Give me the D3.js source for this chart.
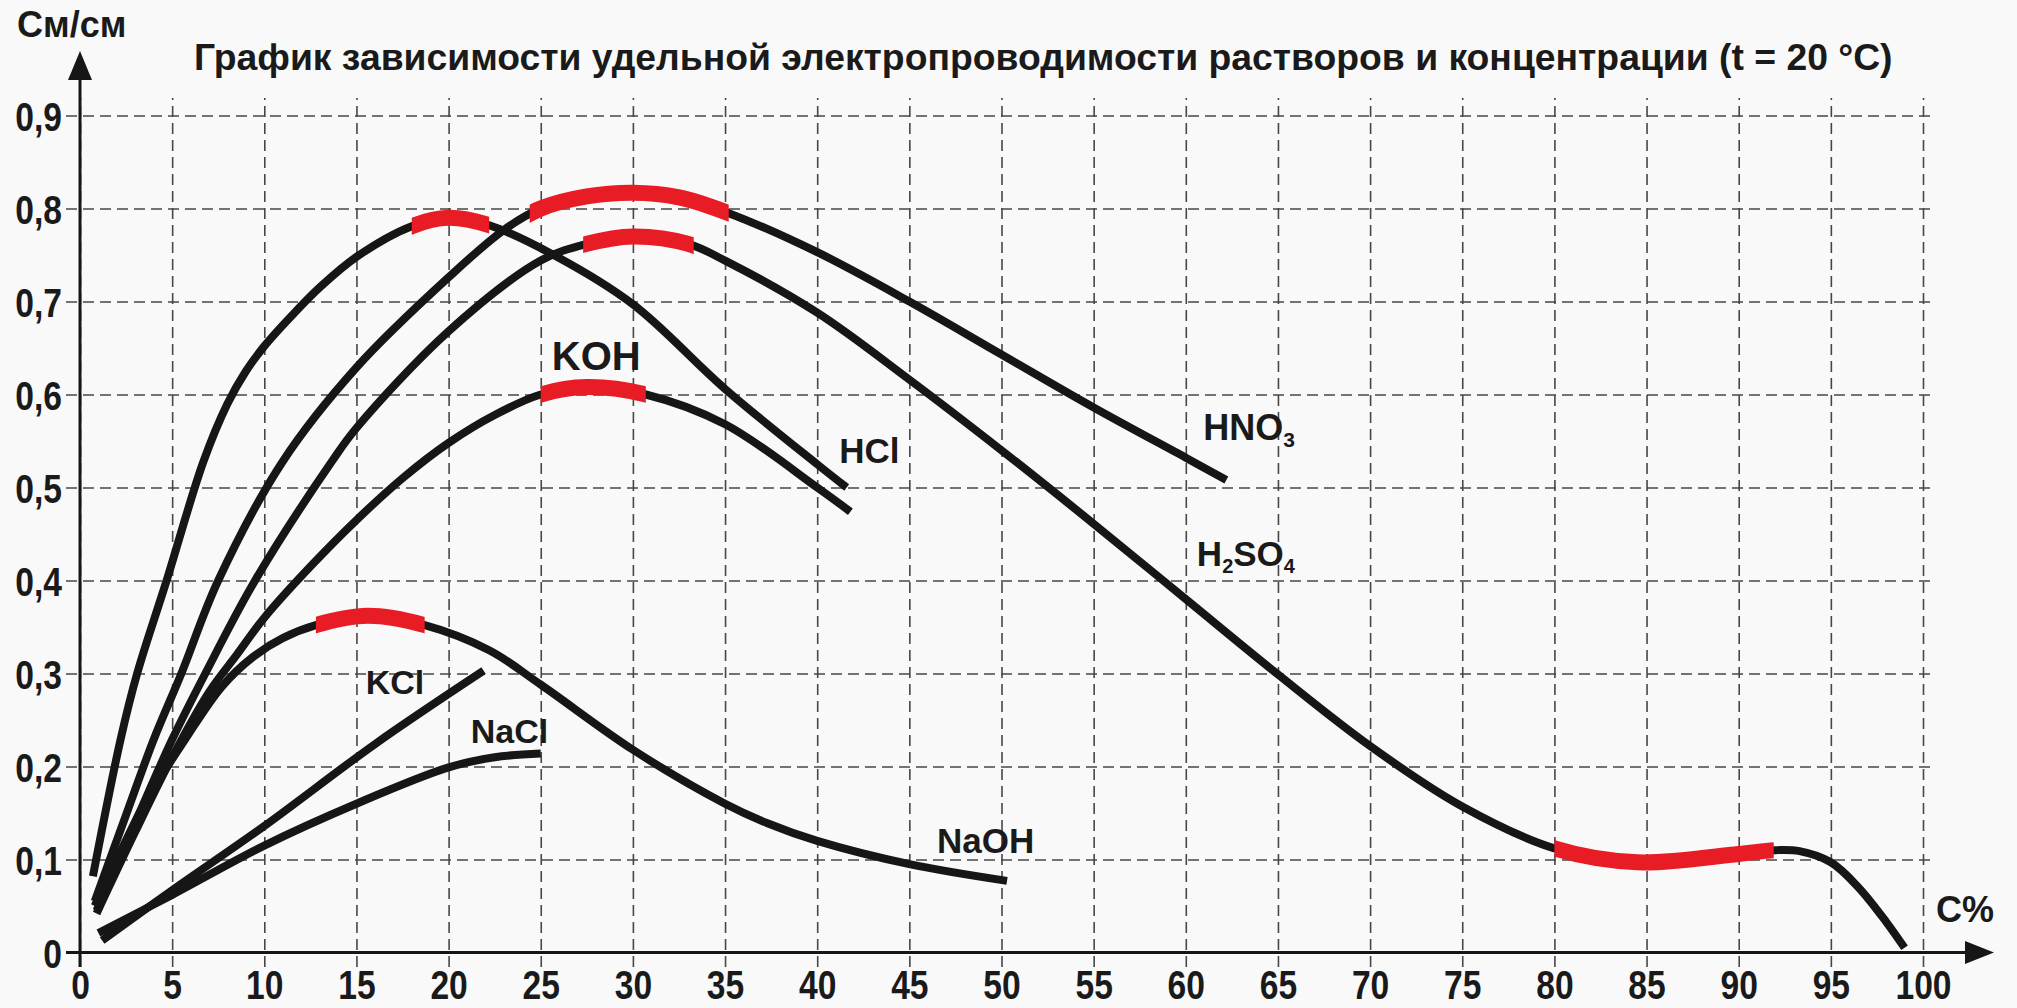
<!DOCTYPE html>
<html>
<head>
<meta charset="utf-8">
<title>Удельная электропроводимость</title>
<script src="https://cdnjs.cloudflare.com/ajax/libs/d3/7.8.5/d3.min.js"></script>
<style>
  body { margin: 0; background: #f9f9f9; }
  svg { display: block; }
  .lbl { font-family: "Liberation Sans", Arial, sans-serif; font-weight: bold; fill: #1a1a1a; }
  .axis text { font-family: "Liberation Sans Narrow", "Arial Narrow", "Liberation Sans", sans-serif; font-weight: bold; font-size: 41px; fill: #1a1a1a; }
</style>
</head>
<body>
<svg id="chart" width="2017" height="1008"></svg>
<script>

var xTicks = [0, 5, 10, 15, 20, 25, 30, 35, 40, 45, 50, 55, 60, 65, 70, 75, 80, 85, 90, 95, 100];
var yTicks = [0, 0.1, 0.2, 0.3, 0.4, 0.5, 0.6, 0.7, 0.8, 0.9];
var yTickLabels = ["0", "0,1", "0,2", "0,3", "0,4", "0,5", "0,6", "0,7", "0,8", "0,9"];

// C%, См/см
var hcl = [[0.7,0.082],[2.2,0.229],[3.1,0.3],[4.7,0.4],[6.7,0.528],[8,0.59],[9,0.625],[10,0.652],[11.5,0.685],[13,0.715],[15,0.748],[18,0.781],[20,0.79],[22.2,0.782],[25.7,0.75],[30,0.697],[35,0.606],[40,0.525],[41.6,0.5]];
var hno3 = [[0.8,0.055],[2.5,0.148],[4,0.229],[5.5,0.3],[7.5,0.4],[11,0.528],[15,0.629],[20,0.726],[23,0.777],[25,0.8],[27.5,0.813],[30,0.817],[32.5,0.812],[35.2,0.795],[40,0.753],[45,0.7],[50,0.643],[55,0.586],[60,0.532],[62.2,0.508]];
var h2so4 = [[0.9,0.045],[3,0.14],[5,0.229],[6.8,0.3],[9.5,0.4],[13.7,0.529],[15,0.564],[20,0.668],[25,0.744],[27.5,0.762],[30,0.77],[33,0.762],[35,0.744],[40,0.688],[45,0.616],[50,0.54],[55,0.461],[60,0.38],[65,0.299],[70,0.222],[75,0.157],[80,0.112],[84.5,0.097],[90,0.106],[92,0.11],[93.3,0.109],[95,0.097],[96.5,0.07],[98,0.033],[99,0.005]];
var koh = [[0.9,0.042],[3,0.13],[5,0.21],[7,0.28],[8.5,0.32],[10,0.36],[12.5,0.415],[15,0.465],[17.5,0.51],[20,0.548],[22.5,0.578],[25,0.6],[27.5,0.608],[30.7,0.6],[35,0.568],[40,0.5],[41.8,0.474]];
var naoh = [[0.8,0.05],[2,0.1],[3.5,0.16],[5.7,0.229],[7.7,0.286],[9.4,0.318],[11,0.338],[12.8,0.352],[15.6,0.362],[18.7,0.352],[22.2,0.325],[25,0.288],[30,0.218],[35,0.16],[37.3,0.139],[40,0.12],[45,0.095],[50.3,0.077]];
var kcl = [[1.2,0.013],[5,0.067],[10,0.136],[16,0.224],[21.9,0.303]];
var nacl = [[1,0.021],[5,0.062],[10,0.115],[15,0.16],[20,0.199],[22.5,0.21],[25,0.214]];

// red (maximum / minimum) zones, C%
var hclHot = [[18, 22.2]];
var hno3Hot = [[24.4, 35.2]];
var h2so4Hot = [[27.3, 33.3], [80, 91.9]];
var kohHot = [[25, 30.7]];
var naohHot = [[12.8, 18.7]];

var Chart = (function () {

  var svg = d3.select("#chart");
  var ink = "#161616";
  var red = "#e81c24";

  var x = d3.scaleLinear().domain([0, 100]).range([80, 1923]);
  var y = d3.scaleLinear().domain([0, 0.9]).range([952.5, 115.5]);

  var series = [
    { name: "HCl", values: hcl, hot: hclHot },
    { name: "HNO3", values: hno3, hot: hno3Hot },
    { name: "H2SO4", values: h2so4, hot: h2so4Hot },
    { name: "KOH", values: koh, hot: kohHot },
    { name: "NaOH", values: naoh, hot: naohHot },
    { name: "KCl", values: kcl, hot: [] },
    { name: "NaCl", values: nacl, hot: [] }
  ];

  // label anchors in data units: [C%, См/см]
  var labels = [
    { parts: [["HCl"]], at: [41.2, 0.526], size: 35 },
    { parts: [["KOH"]], at: [25.6, 0.626], size: 40 },
    { parts: [["HNO"], ["3", 1]], at: [60.95, 0.551], size: 36 },
    { parts: [["H"], ["2", 1], ["SO", -1], ["4", 1]], at: [60.6, 0.416], size: 35 },
    { parts: [["KCl"]], at: [15.5, 0.2775], size: 34 },
    { parts: [["NaCl"]], at: [21.2, 0.2257], size: 34 },
    { parts: [["NaOH"]], at: [46.5, 0.107], size: 35 }
  ];

  var line = d3.line()
    .x(function (d) { return x(d[0]); })
    .y(function (d) { return y(d[1]); })
    .curve(d3.curveCatmullRom.alpha(0.5));

  var drawGrid = function () {
    var gx = svg.append("g")
      .attr("class", "axis")
      .attr("transform", "translate(0,967)")
      .call(d3.axisBottom(x).tickValues(xTicks).tickSizeInner(-(967 - 98)).tickSizeOuter(0).tickFormat(d3.format("d")));

    var gy = svg.append("g")
      .attr("class", "axis")
      .attr("transform", "translate(66,0)")
      .call(d3.axisLeft(y).tickValues(yTicks).tickSizeInner(-(1933 - 66)).tickSizeOuter(0).tickPadding(5)
        .tickFormat(function (d, i) { return yTickLabels[i]; }));

    [gx, gy].forEach(function (g) {
      g.select(".domain").remove();
      g.selectAll(".tick line")
        .attr("stroke", "#474747")
        .attr("stroke-width", 1.6)
        .attr("stroke-dasharray", "11,6");
      g.selectAll(".tick text").attr("transform", "scale(0.82,1)");
    });
    gx.selectAll(".tick text").attr("y", 32).attr("dy", null);
    gy.selectAll(".tick text").attr("dy", "0.36em");
  };

  var drawAxes = function () {
    var g = svg.append("g");
    g.append("line").attr("x1", x(0)).attr("x2", x(0)).attr("y1", 967).attr("y2", 76)
      .attr("stroke", ink).attr("stroke-width", 3);
    g.append("path").attr("d", "M" + x(0) + ",51L" + (x(0) - 12) + ",80L" + (x(0) + 12) + ",80Z").attr("fill", ink);
    g.append("line").attr("x1", 66).attr("x2", 1968).attr("y1", y(0)).attr("y2", y(0))
      .attr("stroke", ink).attr("stroke-width", 3);
    g.append("path").attr("d", "M1994," + y(0) + "L1965," + (y(0) - 11.5) + "L1965," + (y(0) + 11.5) + "Z").attr("fill", ink);
  };

  var drawCurves = function () {
    var g = svg.append("g").attr("fill", "none");
    var defs = svg.append("defs");

    series.forEach(function (s) {
      g.append("path")
        .attr("d", line(s.values))
        .attr("stroke", ink)
        .attr("stroke-width", 8)
        .attr("stroke-linecap", "butt");
    });

    series.forEach(function (s, i) {
      s.hot.forEach(function (r, j) {
        var id = "hot" + i + "_" + j;
        defs.append("clipPath").attr("id", id)
          .append("rect")
          .attr("x", x(r[0])).attr("width", x(r[1]) - x(r[0]))
          .attr("y", 0).attr("height", 1008);
        g.append("path")
          .attr("d", line(s.values))
          .attr("clip-path", "url(#" + id + ")")
          .attr("stroke", red)
          .attr("stroke-width", 16);
      });
    });
  };

  var drawLabels = function () {
    labels.forEach(function (l) {
      var t = svg.append("text").attr("class", "lbl")
        .attr("x", x(l.at[0])).attr("y", y(l.at[1]))
        .style("font-size", l.size + "px");
      l.parts.forEach(function (p) {
        var sp = t.append("tspan").text(p[0]);
        if (p[1] === 1) sp.style("font-size", Math.round(l.size * 0.58) + "px").attr("dy", l.size * 0.2);
        if (p[1] === -1) sp.attr("dy", -l.size * 0.2);
      });
    });

    svg.append("text").attr("class", "lbl").attr("x", 17).attr("y", 37)
      .style("font-size", "36px").text("См/см");
    svg.append("text").attr("class", "lbl").attr("x", 1936).attr("y", 922)
      .style("font-size", "36px").text("С%");

    var title = svg.append("text").attr("class", "lbl").attr("x", 194).attr("y", 70)
      .style("font-size", "32px")
      .text("График зависимости удельной электропроводимости растворов и концентрации (t = 20 °C)");
    var w = title.node().getComputedTextLength();
    title.style("font-size", (32 * 1699 / w).toFixed(1) + "px");
  };

  return {
    Draw: function () {
      drawGrid();
      drawAxes();
      drawCurves();
      drawLabels();
    }
  };
})();

Chart.Draw();
</script>
</body>
</html>
